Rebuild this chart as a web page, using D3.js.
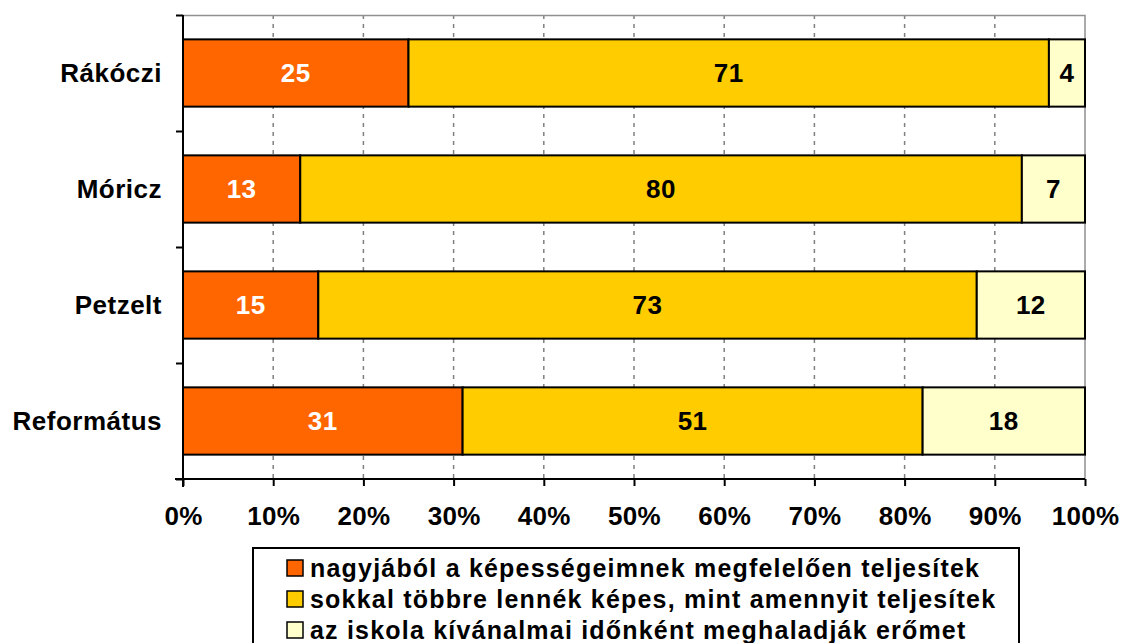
<!DOCTYPE html>
<html>
<head>
<meta charset="utf-8">
<script src="https://cdn.jsdelivr.net/npm/d3@7"></script>
<style>
  body { margin: 0; background: #fff; }
  text { font-family: Arial, "Liberation Sans", sans-serif; font-weight: bold; }
</style>
</head>
<body>
<div id="chart"></div>
<script>
// data
var categories = ["Rákóczi", "Móricz", "Petzelt", "Református"];
var seriesNames = [
  "nagyjából a képességeimnek megfelelően teljesítek",
  "sokkal többre lennék képes, mint amennyit teljesítek",
  "az iskola kívánalmai időnként meghaladják erőmet"
];
var valuesA = [25, 13, 15, 31];
var valuesB = [71, 80, 73, 51];
var valuesC = [4, 7, 12, 18];
var tickValues = [0, 10, 20, 30, 40, 50, 60, 70, 80, 90, 100];
var colors = ["#FF6600", "#FFCC00", "#FFFFCC"];
var labelColors = ["#fff", "#000", "#000"];

var W = 1122, H = 643;
var margin = {top: 15, left: 183, right: 37, bottom: 164};
var width = W - margin.left - margin.right,
    height = H - margin.top - margin.bottom;

var svg = d3.select("#chart").append("svg")
    .attr("width", W).attr("height", H);

var g = svg.append("g")
    .attr("transform", "translate(" + margin.left + "," + margin.top + ")");

var x = d3.scaleLinear().domain([0, 100]).range([0, width]);
var y = d3.scaleBand().domain(categories).range([0, height])
    .paddingInner(0.42).paddingOuter(0.21);

// gridlines
g.selectAll(".grid")
  .data(tickValues.slice(1, -1))
  .enter().append("line")
    .attr("x1", function(d) { return x(d); })
    .attr("x2", function(d) { return x(d); })
    .attr("y1", 0).attr("y2", height)
    .attr("stroke", "#808080")
    .attr("stroke-width", 1.5)
    .attr("stroke-dasharray", "4,5");

// plot area border (top + right)
g.append("path")
  .attr("d", "M0,0.5H" + x(100) + "V" + height)
  .attr("fill", "none")
  .attr("stroke", "#909090")
  .attr("stroke-width", 1.5);

// stacked data
var rows = categories.map(function(c, i) {
  return {cat: c, A: valuesA[i], B: valuesB[i], C: valuesC[i]};
});
var stack = d3.stack().keys(["A", "B", "C"])(rows);

var layers = g.selectAll(".layer")
  .data(stack)
  .enter().append("g")
    .attr("fill", function(d, i) { return colors[i]; });

layers.selectAll("rect")
  .data(function(d) { return d; })
  .enter().append("rect")
    .attr("x", function(d) { return x(d[0]); })
    .attr("y", function(d) { return y(d.data.cat); })
    .attr("width", function(d) { return x(d[1]) - x(d[0]); })
    .attr("height", y.bandwidth())
    .attr("stroke", "#000")
    .attr("stroke-width", 2);

layers.each(function(layer, li) {
  d3.select(this).selectAll("text")
    .data(layer)
    .enter().append("text")
      .attr("x", function(d) { return (x(d[0]) + x(d[1])) / 2; })
      .attr("y", function(d) { return y(d.data.cat) + y.bandwidth() / 2; })
      .attr("dy", "0.36em")
      .attr("text-anchor", "middle")
      .attr("fill", labelColors[li])
      .style("font-size", "26px")
      .style("letter-spacing", "0.5px")
      .text(function(d) { return d[1] - d[0]; });
});

// left axis with ticks between categories
var yEdges = d3.scaleLinear().domain([0, categories.length]).range([0, height]);
g.append("g")
  .call(d3.axisLeft(yEdges).tickValues(d3.range(categories.length + 1))
    .tickSize(7).tickSizeOuter(0).tickFormat(""))
  .call(function(a) {
    a.select(".domain").attr("stroke-width", 2).attr("d", "M0,0V" + (height + 8));
    a.selectAll(".tick line").attr("stroke-width", 2);
  });

// category labels
g.selectAll(".cat")
  .data(categories)
  .enter().append("text")
    .attr("x", -21)
    .attr("y", function(d) { return y(d) + y.bandwidth() / 2; })
    .attr("dy", "0.36em")
    .attr("text-anchor", "end")
    .style("font-size", "26px")
    .style("letter-spacing", "0.5px")
    .text(function(d) { return d; });

// bottom axis
g.append("g")
  .attr("transform", "translate(0," + height + ")")
  .call(d3.axisBottom(x).tickValues(tickValues).tickSize(7).tickSizeOuter(0)
    .tickPadding(21)
    .tickFormat(function(d) { return d + "%"; }))
  .call(function(a) {
    a.select(".domain").attr("stroke-width", 2).attr("d", "M-8,0H" + x(100));
    a.selectAll(".tick line").attr("stroke-width", 2);
    a.selectAll(".tick text").style("font-size", "26px")
      .style("letter-spacing", "0.3px")
      .style("font-family", "Arial, 'Liberation Sans', sans-serif")
      .style("font-weight", "bold").attr("fill", "#000");
  });

// legend
var legend = svg.append("g").attr("transform", "translate(253,548)");
legend.append("rect")
  .attr("x", 0).attr("y", 0)
  .attr("width", 766).attr("height", 110)
  .attr("fill", "#fff").attr("stroke", "#000").attr("stroke-width", 2);

var items = legend.selectAll(".item")
  .data(seriesNames)
  .enter().append("g")
    .attr("transform", function(d, i) { return "translate(34," + (20 + i * 31) + ")"; });

items.append("rect")
  .attr("x", 0).attr("y", -8)
  .attr("width", 16).attr("height", 16)
  .attr("fill", function(d, i) { return colors[i]; })
  .attr("stroke", "#000").attr("stroke-width", 1.5);

items.append("text")
  .attr("x", 23)
  .attr("dy", "0.36em")
  .style("font-size", "25px")
  .style("letter-spacing", "1.2px")
  .text(function(d) { return d; });
</script>
</body>
</html>
